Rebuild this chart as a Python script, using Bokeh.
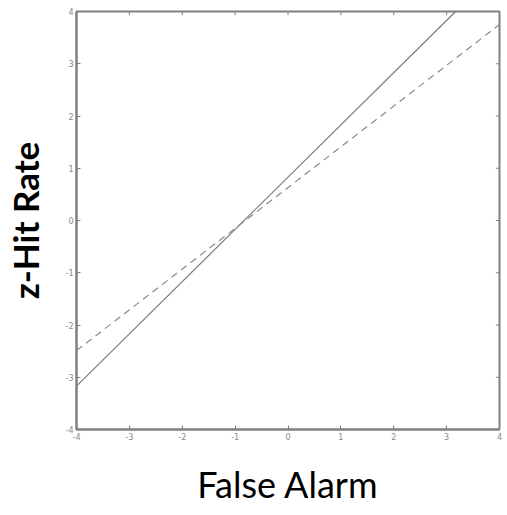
from bokeh.plotting import figure
from bokeh.models import Range1d, FixedTicker
from bokeh.embed import file_html
from bokeh.resources import INLINE

# Data
ticks = [-4, -3, -2, -1, 0, 1, 2, 3, 4]
tick_labels = ["-4", "-3", "-2", "-1", "0", "1", "2", "3", "4"]
solid_x = [-4.0, 3.17]
solid_y = [-3.17, 4.0]
dashed_x = [-4.0, 4.0]
dashed_y = [-2.49, 3.75]

p = figure(width=502, height=508, output_backend="svg", toolbar_location=None,
           x_range=Range1d(-4, 4), y_range=Range1d(-4, 4),
           min_border_left=76, min_border_right=3, min_border_top=11, min_border_bottom=74)
p.background_fill_color = "white"
p.border_fill_color = "white"
p.grid.visible = False
p.outline_line_color = "#808080"
p.outline_line_width = 2

p.line(solid_x, solid_y, line_color="#7a7a7a", line_width=1.2)
p.line(dashed_x, dashed_y, line_color="#8a8a8a", line_width=1.2, line_dash="7 5")

# inner ticks on the top and right edges (MATLAB box style)
tlen = 0.07
p.segment(x0=ticks, y0=[4] * len(ticks), x1=ticks, y1=[4 - tlen] * len(ticks),
          line_color="#808080", line_width=1)
p.segment(x0=[4] * len(ticks), y0=ticks, x1=[4 - tlen] * len(ticks), y1=ticks,
          line_color="#808080", line_width=1)

for ax in p.xaxis + p.yaxis:
    ax.ticker = FixedTicker(ticks=ticks)
    ax.major_label_overrides = {t: s for t, s in zip(ticks, tick_labels)}
    ax.minor_tick_line_color = None
    ax.major_tick_in = 4
    ax.major_tick_out = 0
    ax.major_tick_line_color = "#808080"
    ax.axis_line_color = "#808080"
    ax.axis_line_width = 2
    ax.major_label_text_font = "DejaVu Sans"
    ax.major_label_text_font_size = "8px"
    ax.major_label_text_color = "#8a8a8a"
    ax.major_label_standoff = 3

p.xaxis.axis_label = "False Alarm"
p.xaxis.axis_label_text_font = "Lato"
p.xaxis.axis_label_text_font_style = "normal"
p.xaxis.axis_label_text_font_size = "36px"
p.xaxis.axis_label_text_color = "black"
p.xaxis.axis_label_standoff = 19

p.yaxis.axis_label = "z-Hit Rate"
p.yaxis.axis_label_text_font = "Lato"
p.yaxis.axis_label_text_font_style = "bold"
p.yaxis.axis_label_text_font_size = "35px"
p.yaxis.axis_label_text_color = "black"
p.yaxis.axis_label_standoff = 17

open("out.html", "w").write(file_html(p, INLINE))
